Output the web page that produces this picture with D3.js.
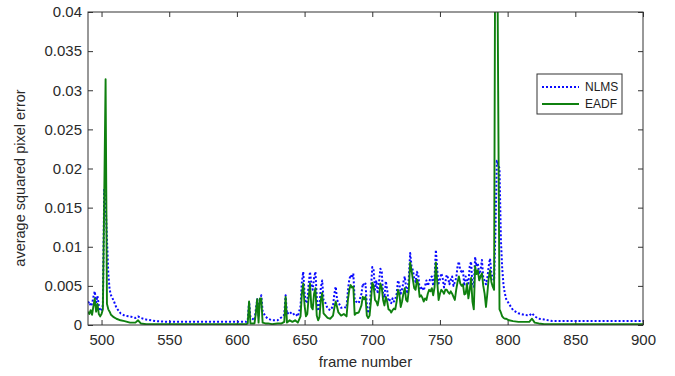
<!DOCTYPE html>
<html>
<head>
<meta charset="utf-8">
<script src="https://cdn.jsdelivr.net/npm/d3@7/dist/d3.min.js"></script>
<style>
  html, body { margin: 0; padding: 0; background: #fff; }
  svg { display: block; font-family: "Liberation Sans", Arial, sans-serif; }
</style>
</head>
<body>
<svg id="chart" width="675" height="376"></svg>
<script>
// ---- data ----
const frames = [490,491,492,493,494,495,496,497,498,499,500,501,502,503,504,505,506,507,509,511,514,517,521,525,527,529,533,540,550,560,570,580,590,600,607,608,609,610,613,614,615,616,617,618,619,621,623,626,630,633,635,636,637,639,641,643,645,647,648,649,650,651,652,653,654,655,656,657,658,659,660,661,662,663,664,665,667,669,671,672,673,674,675,677,679,681,682,683,684,685,686,687,688,690,692,693,694,695,696,697,698,699,700,701,702,703,704,705,706,707,708,709,710,711,712,713,714,715,716,717,718,719,720,721,722,723,724,725,726,727,728,729,730,731,732,733,734,735,736,737,738,739,740,741,742,743,744,745,746,747,748,749,750,751,752,753,754,755,756,757,758,759,760,761,762,763,764,765,766,767,768,769,770,771,772,773,774,775,776,777,778,779,780,781,782,783,784,785,786,787,788,789,790,791,792,793,794,795,796,797,798,799,801,804,808,812,816,818,820,823,827,833,840,850,860,870,880,890,900];

const nlms = [0.0028,0.0030,0.0024,0.0027,0.0036,0.0043,0.0029,0.0037,0.0025,0.0019,0.0018,0.0026,0.0174,0.0158,0.0110,0.0065,0.0045,0.0038,0.0031,0.0022,0.0015,0.0012,0.0011,0.0009,0.0011,0.0009,0.0007,0.0005,0.0004,0.0004,0.0004,0.0004,0.0004,0.0004,0.0004,0.0006,0.0030,0.0010,0.0006,0.0020,0.0033,0.0012,0.0032,0.0038,0.0018,0.0011,0.0008,0.0006,0.0006,0.0010,0.0013,0.0038,0.0014,0.0017,0.0013,0.0015,0.0011,0.0024,0.0055,0.0068,0.0040,0.0028,0.0030,0.0052,0.0068,0.0053,0.0045,0.0060,0.0068,0.0035,0.0018,0.0025,0.0048,0.0057,0.0032,0.0030,0.0021,0.0019,0.0024,0.0040,0.0049,0.0032,0.0029,0.0022,0.0023,0.0022,0.0044,0.0058,0.0064,0.0060,0.0066,0.0032,0.0030,0.0028,0.0040,0.0053,0.0050,0.0053,0.0025,0.0015,0.0020,0.0045,0.0074,0.0070,0.0045,0.0057,0.0040,0.0055,0.0072,0.0068,0.0040,0.0035,0.0056,0.0045,0.0030,0.0032,0.0028,0.0034,0.0030,0.0033,0.0040,0.0057,0.0052,0.0040,0.0045,0.0055,0.0062,0.0048,0.0040,0.0060,0.0092,0.0075,0.0070,0.0060,0.0055,0.0068,0.0064,0.0045,0.0047,0.0049,0.0044,0.0050,0.0057,0.0050,0.0055,0.0060,0.0062,0.0050,0.0060,0.0096,0.0070,0.0053,0.0058,0.0066,0.0060,0.0048,0.0055,0.0064,0.0060,0.0052,0.0058,0.0062,0.0050,0.0055,0.0060,0.0075,0.0081,0.0070,0.0068,0.0070,0.0050,0.0062,0.0057,0.0053,0.0075,0.0081,0.0050,0.0049,0.0087,0.0075,0.0079,0.0065,0.0070,0.0083,0.0060,0.0057,0.0052,0.0060,0.0075,0.0085,0.0066,0.0060,0.0057,0.0120,0.0210,0.0205,0.0200,0.0110,0.0072,0.0050,0.0040,0.0033,0.0027,0.0019,0.0015,0.0013,0.0012,0.0015,0.0011,0.0008,0.0007,0.0005,0.0005,0.0005,0.0005,0.0005,0.0005,0.0005,0.0005];

const eadf = [0.0017,0.0014,0.0019,0.0013,0.0024,0.0034,0.0017,0.0027,0.0014,0.0011,0.0014,0.0020,0.0165,0.0314,0.0027,0.0020,0.0017,0.0013,0.0010,0.0008,0.0006,0.0005,0.0003,0.0003,0.0006,0.0002,0.0001,0.0001,0.0001,0.0001,0.0001,0.0001,0.0001,0.0001,0.0001,0.0002,0.0030,0.0002,0.0002,0.0015,0.0033,0.0003,0.0034,0.0034,0.0003,0.0002,0.0002,0.0001,0.0002,0.0002,0.0004,0.0036,0.0003,0.0006,0.0004,0.0006,0.0003,0.0011,0.0040,0.0053,0.0025,0.0011,0.0014,0.0035,0.0053,0.0023,0.0020,0.0040,0.0047,0.0012,0.0006,0.0010,0.0032,0.0041,0.0015,0.0013,0.0009,0.0008,0.0012,0.0022,0.0030,0.0023,0.0016,0.0012,0.0014,0.0011,0.0032,0.0045,0.0051,0.0048,0.0049,0.0013,0.0015,0.0016,0.0025,0.0036,0.0033,0.0036,0.0012,0.0009,0.0012,0.0030,0.0054,0.0050,0.0032,0.0030,0.0025,0.0035,0.0053,0.0048,0.0032,0.0025,0.0036,0.0030,0.0020,0.0019,0.0016,0.0019,0.0021,0.0020,0.0030,0.0045,0.0040,0.0023,0.0030,0.0040,0.0047,0.0032,0.0030,0.0045,0.0080,0.0070,0.0058,0.0047,0.0045,0.0058,0.0052,0.0036,0.0038,0.0035,0.0030,0.0034,0.0032,0.0040,0.0045,0.0043,0.0047,0.0038,0.0048,0.0080,0.0055,0.0032,0.0040,0.0045,0.0043,0.0040,0.0045,0.0045,0.0042,0.0040,0.0043,0.0040,0.0036,0.0032,0.0045,0.0055,0.0062,0.0053,0.0050,0.0052,0.0039,0.0040,0.0053,0.0034,0.0045,0.0060,0.0030,0.0020,0.0075,0.0065,0.0070,0.0057,0.0062,0.0066,0.0050,0.0040,0.0023,0.0040,0.0060,0.0070,0.0055,0.0049,0.0045,0.0600,0.0600,0.0300,0.0020,0.0016,0.0011,0.0009,0.0008,0.0008,0.0006,0.0005,0.0004,0.0004,0.0004,0.0008,0.0003,0.0002,0.0001,0.0001,0.0001,0.0001,0.0001,0.0001,0.0001,0.0001,0.0001];

const xTicks = [500,550,600,650,700,750,800,850,900];
const xTickLabels = ["500","550","600","650","700","750","800","850","900"];
const yTicks = [0,0.005,0.01,0.015,0.02,0.025,0.03,0.035,0.04];
const yTickLabels = ["0","0.005","0.01","0.015","0.02","0.025","0.03","0.035","0.04"];
const seriesNames = ["NLMS","EADF"];

// ---- layout ----
const L = 88, R = 643, T = 12, B = 325;
const svg = d3.select("#chart");
const x = d3.scaleLinear().domain([490, 900]).range([L, R]);
const y = d3.scaleLinear().domain([0, 0.04]).range([B, T]);

svg.append("rect").attr("width", 675).attr("height", 376).attr("fill", "#fff");

svg.append("defs").append("clipPath").attr("id", "clip")
  .append("rect").attr("x", L).attr("y", T).attr("width", R - L).attr("height", B - T);

const tickColor = "#333";
const labelColor = "#2a2a2a";
const blue = "#0a0aff", green = "#0f800f";

// axes
const gx = svg.append("g").attr("transform", `translate(0,${B})`)
  .call(d3.axisBottom(x).tickValues(xTicks).tickFormat((d,i)=>xTickLabels[i]).tickSizeInner(-5).tickSizeOuter(0).tickPadding(9));
const gxt = svg.append("g").attr("transform", `translate(0,${T})`)
  .call(d3.axisTop(x).tickValues(xTicks).tickFormat("").tickSizeInner(-5).tickSizeOuter(0));
const gy = svg.append("g").attr("transform", `translate(${L},0)`)
  .call(d3.axisLeft(y).tickValues(yTicks).tickFormat((d,i)=>yTickLabels[i]).tickSizeInner(-5).tickSizeOuter(0).tickPadding(6));
const gyr = svg.append("g").attr("transform", `translate(${R},0)`)
  .call(d3.axisRight(y).tickValues(yTicks).tickFormat("").tickSizeInner(-5).tickSizeOuter(0));

[gx, gxt, gy, gyr].forEach(g => {
  g.select(".domain").remove();
  g.selectAll("line").attr("stroke", tickColor);
  g.selectAll("text").attr("fill", labelColor).style("font-size", "15px")
    .style("font-family", '"Liberation Sans", Arial, sans-serif');
});

// lines
const lineN = d3.line().x((d,i)=>x(frames[i])).y(d=>y(d));
const plot = svg.append("g").attr("clip-path", "url(#clip)");
plot.append("path").datum(nlms).attr("d", lineN)
  .attr("fill", "none").attr("stroke", blue).attr("stroke-width", 2)
  .attr("stroke-dasharray", "2,2").attr("stroke-linejoin", "round");
plot.append("path").datum(eadf).attr("d", lineN)
  .attr("fill", "none").attr("stroke", green).attr("stroke-width", 1.9)
  .attr("stroke-linejoin", "round");

// frame
svg.append("rect").attr("x", L).attr("y", T).attr("width", R - L).attr("height", B - T)
  .attr("fill", "none").attr("stroke", "#333").attr("stroke-width", 1);

// axis titles
svg.append("text").attr("x", (L + R) / 2).attr("y", 367).attr("text-anchor", "middle")
  .attr("fill", labelColor).style("font-size", "15px").text("frame number");
svg.append("text").attr("transform", "translate(25,178) rotate(-90)").attr("text-anchor", "middle")
  .attr("fill", labelColor).style("font-size", "14.5px").text("average squared pixel error");

// legend
const lg = svg.append("g");
lg.append("rect").attr("x", 537).attr("y", 74).attr("width", 85).attr("height", 40)
  .attr("fill", "#fff").attr("stroke", "#333").attr("stroke-width", 1);
const legendItems = [
  {name: seriesNames[0], color: blue, dash: "2,2", w: 2},
  {name: seriesNames[1], color: green, dash: null, w: 1.9}
];
legendItems.forEach((it, i) => {
  const yy = 87 + i * 17;
  lg.append("line").attr("x1", 542).attr("x2", 579).attr("y1", yy).attr("y2", yy)
    .attr("stroke", it.color).attr("stroke-width", it.w).attr("stroke-dasharray", it.dash);
  lg.append("text").attr("x", 585).attr("y", yy + 4.3).attr("fill", "#222")
    .style("font-size", "12px").text(it.name);
});
</script>
</body>
</html>
